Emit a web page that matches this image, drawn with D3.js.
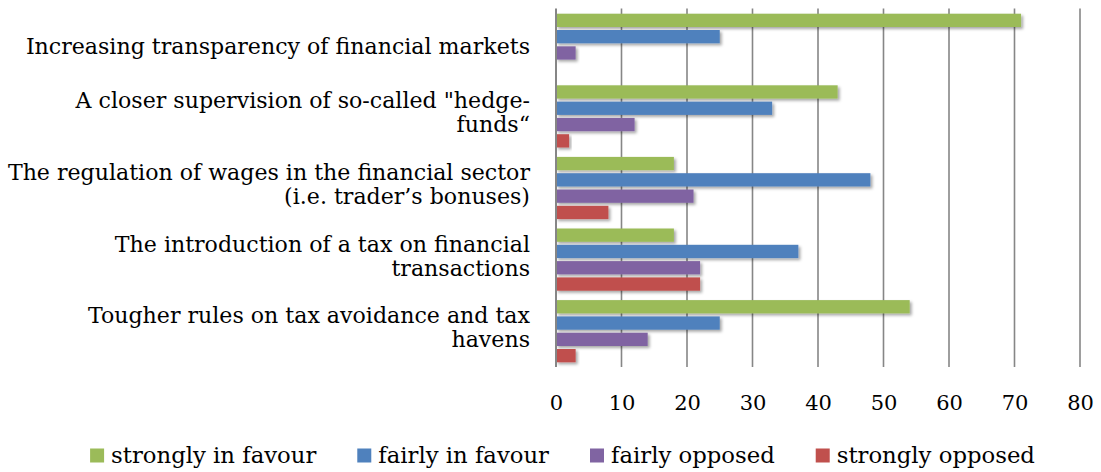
<!DOCTYPE html>
<html>
<head>
<meta charset="utf-8">
<script src="https://cdn.jsdelivr.net/npm/d3@7"></script>
<style>
  html, body { margin: 0; padding: 0; background: #fff; }
  svg { display: block; }
  text { font-family: "DejaVu Serif", "Liberation Serif", serif; fill: #000; }
</style>
</head>
<body>
<svg id="chart" width="1101" height="472"></svg>
<script>
// ---- data ----
const categories = [
  "Increasing transparency of financial markets",
  "A closer supervision of so-called \"hedge-\nfunds“",
  "The regulation of wages in the financial sector\n(i.e. trader’s bonuses)",
  "The introduction of a tax on financial\ntransactions",
  "Tougher rules on tax avoidance and tax\nhavens"
];
const seriesNames = ["strongly in favour", "fairly in favour", "fairly opposed", "strongly opposed"];
const stronglyInFavour = [71, 43, 18, 18, 54];
const fairlyInFavour   = [25, 33, 48, 37, 25];
const fairlyOpposed    = [3, 12, 21, 22, 14];
const stronglyOpposed  = [0, 2, 8, 22, 3];
const xTickValues = [0, 10, 20, 30, 40, 50, 60, 70, 80];
const seriesColors = ["#9BBB59", "#4F81BD", "#8064A2", "#C0504D"];

const seriesValues = [stronglyInFavour, fairlyInFavour, fairlyOpposed, stronglyOpposed];

// ---- layout ----
const svg = d3.select("#chart");
const plot = { left: 556, right: 1080, top: 9, bottom: 367 };
const gridColor = "#868686";

// fit font size to reference text width
const probe = svg.append("text").attr("font-size", 22).text(categories[0]);
const w22 = probe.node().getComputedTextLength();
probe.remove();
const fs = Math.round(22 * 505 / w22 * 10) / 10;
const tickFs = 21;
const legendFs = fs * 1.03;

const x = d3.scaleLinear().domain([0, 80]).range([plot.left, plot.right]);
const y0 = d3.scaleBand().domain(categories).range([plot.top, plot.bottom]);
const y1 = d3.scaleBand().domain(seriesNames)
  .range([4.7, y0.bandwidth() - 4.7]).paddingInner(0.184);

// shadow filter
const defs = svg.append("defs");
const f = defs.append("filter").attr("id", "shadow")
  .attr("x", "-10%").attr("y", "-30%").attr("width", "130%").attr("height", "180%");
f.append("feDropShadow").attr("dx", 2).attr("dy", 2).attr("stdDeviation", 1.6)
  .attr("flood-color", "#000").attr("flood-opacity", 0.35);

// gridlines
svg.append("g").selectAll("line").data(xTickValues.filter(d => d > 0)).join("line")
  .attr("x1", d => x(d)).attr("x2", d => x(d))
  .attr("y1", plot.top - 0.5).attr("y2", plot.bottom)
  .attr("stroke", gridColor).attr("stroke-width", 1.6);

// bars
const groups = svg.append("g").selectAll("g").data(categories).join("g")
  .attr("transform", d => `translate(0,${y0(d)})`);
groups.selectAll("rect")
  .data((c, i) => seriesNames.map((s, j) => ({ s, j, v: seriesValues[j][i] })))
  .join("rect")
  .filter(d => d.v > 0)
  .attr("x", x(0))
  .attr("y", d => y1(d.s))
  .attr("width", d => x(d.v) - x(0))
  .attr("height", y1.bandwidth())
  .attr("fill", d => seriesColors[d.j])
  .attr("filter", "url(#shadow)");

// vertical axis line
svg.append("line")
  .attr("x1", x(0)).attr("x2", x(0))
  .attr("y1", plot.top - 0.5).attr("y2", plot.bottom)
  .attr("stroke", gridColor).attr("stroke-width", 2);

// x tick labels using d3 axis
const xAxis = d3.axisBottom(x).tickValues(xTickValues).tickSize(0).tickPadding(0);
const gx = svg.append("g").attr("transform", `translate(0,${plot.bottom})`).call(xAxis);
gx.select(".domain").remove();
gx.selectAll("text")
  .attr("font-family", "DejaVu Serif, Liberation Serif, serif")
  .attr("font-size", tickFs).attr("fill", "#000")
  .attr("dy", null).attr("y", 43);

// category labels
const labelG = svg.append("g");
categories.forEach(c => {
  const lines = c.split("\n");
  const cy = y0(c) + y0.bandwidth() / 2;
  const first = cy + 9 - (lines.length - 1) * 17;
  const t = labelG.append("text").attr("text-anchor", "end").attr("font-size", fs);
  lines.forEach((ln, k) => {
    t.append("tspan").attr("x", 530).attr("y", first + k * 24).text(ln);
  });
});

// legend
const legend = svg.append("g");
let lx = 94;
const items = [];
seriesNames.forEach((s, j) => {
  const g = legend.append("g");
  g.append("rect").attr("x", 0).attr("y", 448.5).attr("width", 14).attr("height", 14)
    .attr("fill", seriesColors[j]);
  const t = g.append("text").attr("x", 21).attr("y", 463).attr("font-size", legendFs).text(s);
  const tw = t.node().getComputedTextLength();
  items.push({ g, w: 21 + tw });
});
const gap = 41;
const total = d3.sum(items, d => d.w) + gap * (items.length - 1);
lx = 562.5 - total / 2;
items.forEach(it => {
  it.g.attr("transform", `translate(${lx},0)`);
  lx += it.w + gap;
});
</script>
</body>
</html>
